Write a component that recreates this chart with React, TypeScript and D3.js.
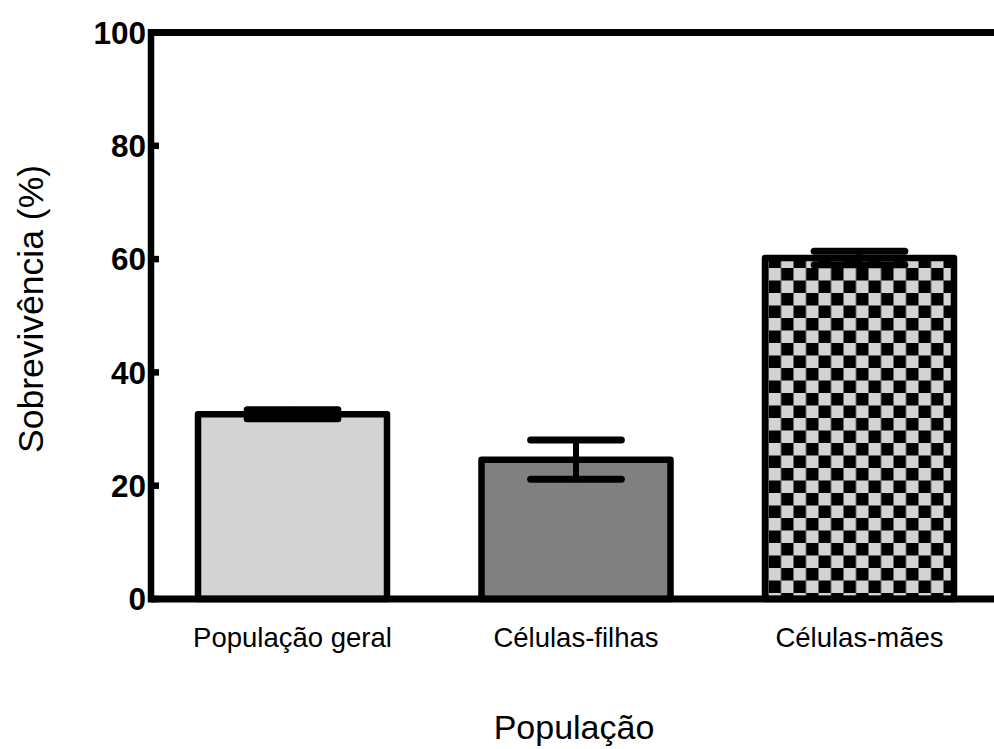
import React from "react";
import * as d3 from "d3";

const categories = ["População geral", "Células-filhas", "Células-mães"];
const means = [32.6, 24.6, 60.2];
const errors = [0.8, 3.45, 1.2];
const fills = ["#d3d3d3", "#808080", "url(#checker)"];
const yTicks = [0, 20, 40, 60, 80, 100];

const W = 994;
const H = 749;
const FONT = "'Liberation Sans', Arial, Helvetica, sans-serif";

export default function App() {
  const axisX = 151;
  const y = d3.scaleLinear().domain([0, 100]).range([599, 32.5]);
  const x = d3
    .scaleBand<string>()
    .domain(categories)
    .range([axisX, 1001])
    .paddingInner(1 / 3)
    .paddingOuter(0.1658);
  const bw = x.bandwidth();
  const capHalf = bw * 0.24;
  const cell = 12.5;
  const bar3x = x(categories[2]) as number;

  return (
    <svg
      width={W}
      height={H}
      style={{ position: "absolute", left: 0, top: 0, background: "#fff" }}
      fontFamily={FONT}
    >
      <defs>
        <pattern
          id="checker"
          patternUnits="userSpaceOnUse"
          width={cell * 2}
          height={cell * 2}
          x={bar3x + 3.5}
          y={268 - cell * 2}
        >
          <rect width={cell * 2} height={cell * 2} fill="#d3d3d3" />
          <rect x={cell} y={0} width={cell} height={cell} fill="#000" />
          <rect x={0} y={cell} width={cell} height={cell} fill="#000" />
        </pattern>
      </defs>

      {/* bars */}
      {categories.map((c, i) => {
        const x0 = x(c) as number;
        const yt = y(means[i]);
        return (
          <rect
            key={c}
            x={x0}
            y={yt}
            width={bw}
            height={y(0) - yt}
            fill={fills[i]}
            stroke="#000"
            strokeWidth={6.5}
            strokeLinejoin="round"
          />
        );
      })}

      {/* error bars */}
      {categories.map((c, i) => {
        const cx = (x(c) as number) + bw / 2;
        const yHi = y(means[i] + errors[i]);
        const yLo = y(means[i] - errors[i]);
        return (
          <g key={"e" + c} stroke="#000" strokeLinecap="round">
            <line x1={cx} x2={cx} y1={yHi} y2={yLo} strokeWidth={6} />
            <line x1={cx - capHalf} x2={cx + capHalf} y1={yHi} y2={yHi} strokeWidth={7} />
            <line x1={cx - capHalf} x2={cx + capHalf} y1={yLo} y2={yLo} strokeWidth={7} />
          </g>
        );
      })}

      {/* axes frame */}
      <line x1={axisX} x2={W} y1={y(100)} y2={y(100)} stroke="#000" strokeWidth={7} />
      <line x1={axisX} x2={W} y1={y(0)} y2={y(0)} stroke="#000" strokeWidth={7} />
      <line x1={axisX} x2={axisX} y1={y(100) - 3.5} y2={y(0) + 3.5} stroke="#000" strokeWidth={6.5} />

      {/* y ticks */}
      {yTicks.map((t) => (
        <g key={t}>
          <line x1={axisX} x2={159} y1={y(t)} y2={y(t)} stroke="#000" strokeWidth={6.5} />
          <text
            x={146}
            y={y(t)}
            dy="0.36em"
            textAnchor="end"
            fontSize={31.5}
            fontWeight="bold"
            fill="#000"
          >
            {t}
          </text>
        </g>
      ))}

      {/* x tick labels */}
      {categories.map((c) => (
        <text
          key={"l" + c}
          x={(x(c) as number) + bw / 2}
          y={637}
          dy="0.36em"
          textAnchor="middle"
          fontSize={27.5}
          fill="#000"
        >
          {c}
        </text>
      ))}

      {/* axis titles */}
      <text
        transform={`translate(30,309) rotate(-90)`}
        dy="0.36em"
        textAnchor="middle"
        fontSize={35.5}
        fill="#000"
      >
        Sobrevivência (%)
      </text>
      <text x={574} y={739} textAnchor="middle" fontSize={34} fill="#000">
        População
      </text>
    </svg>
  );
}
